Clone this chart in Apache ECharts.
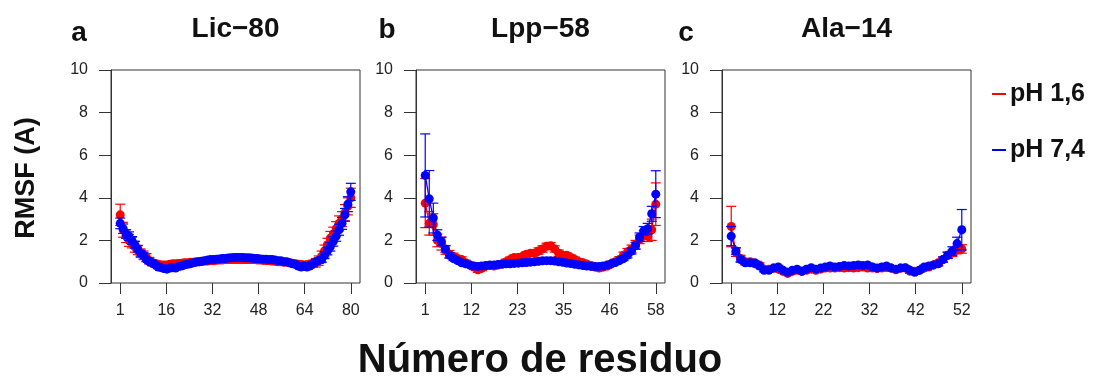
<!DOCTYPE html>
<html><head><meta charset="utf-8">
<script src="https://cdn.jsdelivr.net/npm/echarts@6/dist/echarts.min.js"></script>
<style>html,body{margin:0;padding:0;background:#fff}#c{width:1095px;height:386px}</style>
</head><body><div id="c"></div>
<script>
// ---------- data ----------
const panelLetters = ['a', 'b', 'c'];
const panelTitles = ['Lic−80', 'Lpp−58', 'Ala−14'];
const seriesNames = ['pH 1,6', 'pH 7,4'];
const firstResidue = [1, 1, 3];

const ticksLic = ['1', '16', '32', '48', '64', '80'];
const ticksLpp = ['1', '12', '23', '35', '46', '58'];
const ticksAla = ['3', '12', '22', '32', '42', '52'];

// Lic-80 (residues 1..80)
const licRed = [3.2, 2.5, 2.2, 2.0, 1.9, 1.7, 1.55, 1.4, 1.3, 1.2,
  1.05, 0.95, 0.9, 0.88, 0.85, 0.85, 0.85, 0.88, 0.9, 0.9,
  0.92, 0.93, 0.95, 0.95, 0.97, 0.98, 1.0, 1.0, 1.02, 1.03,
  1.03, 1.05, 1.05, 1.07, 1.08, 1.08, 1.1, 1.1, 1.1, 1.1,
  1.1, 1.1, 1.1, 1.1, 1.1, 1.1, 1.1, 1.08, 1.08, 1.06,
  1.05, 1.05, 1.03, 1.02, 1.0, 1.0, 0.98, 0.97, 0.95, 0.93,
  0.9, 0.88, 0.87, 0.85, 0.86, 0.88, 0.9, 0.95, 1.05, 1.25,
  1.5, 1.8, 2.1, 2.3, 2.55, 2.8, 3.0, 3.3, 3.6, 4.0];
const licRedErr = [0.5, 0.35, 0.3, 0.28, 0.25, 0.25, 0.22, 0.2, 0.2, 0.18,
  0.15, 0.15, 0.14, 0.13, 0.13, 0.12, 0.12, 0.12, 0.12, 0.12,
  0.12, 0.12, 0.12, 0.12, 0.12, 0.12, 0.12, 0.12, 0.12, 0.12,
  0.12, 0.12, 0.12, 0.12, 0.12, 0.12, 0.12, 0.12, 0.12, 0.12,
  0.12, 0.12, 0.12, 0.12, 0.12, 0.12, 0.12, 0.12, 0.12, 0.12,
  0.12, 0.12, 0.12, 0.12, 0.12, 0.12, 0.12, 0.12, 0.12, 0.12,
  0.12, 0.12, 0.13, 0.13, 0.14, 0.15, 0.17, 0.2, 0.22, 0.25,
  0.28, 0.3, 0.32, 0.32, 0.33, 0.35, 0.35, 0.38, 0.4, 0.45];
const licBlue = [2.8, 2.55, 2.3, 2.2, 2.0, 1.8, 1.6, 1.4, 1.3, 1.1,
  1.0, 0.95, 0.85, 0.75, 0.72, 0.68, 0.65, 0.7, 0.72, 0.7,
  0.78, 0.8, 0.85, 0.88, 0.9, 0.95, 0.98, 1.0, 1.02, 1.05,
  1.08, 1.1, 1.1, 1.12, 1.13, 1.15, 1.15, 1.17, 1.18, 1.2,
  1.2, 1.2, 1.2, 1.18, 1.18, 1.17, 1.15, 1.15, 1.13, 1.12,
  1.12, 1.1, 1.1, 1.08, 1.05, 1.05, 1.0, 1.0, 0.95, 0.9,
  0.88, 0.8, 0.75, 0.8, 0.75, 0.8, 0.9, 1.0, 1.05, 1.1,
  1.3, 1.5, 1.7, 1.95, 2.2, 2.5, 2.8, 3.2, 3.7, 4.28];
const licBlueErr = [0.25, 0.22, 0.2, 0.2, 0.18, 0.16, 0.15, 0.14, 0.12, 0.1,
  0.1, 0.09, 0.09, 0.08, 0.08, 0.08, 0.08, 0.08, 0.08, 0.08,
  0.08, 0.08, 0.08, 0.08, 0.08, 0.08, 0.08, 0.08, 0.08, 0.08,
  0.08, 0.08, 0.08, 0.08, 0.08, 0.08, 0.08, 0.08, 0.08, 0.08,
  0.08, 0.08, 0.08, 0.08, 0.08, 0.08, 0.08, 0.08, 0.08, 0.08,
  0.08, 0.08, 0.08, 0.08, 0.08, 0.08, 0.08, 0.08, 0.08, 0.08,
  0.08, 0.08, 0.08, 0.08, 0.08, 0.09, 0.1, 0.1, 0.12, 0.14,
  0.16, 0.18, 0.2, 0.22, 0.24, 0.26, 0.28, 0.3, 0.35, 0.4];

// Lpp-58 (residues 1..58)
const lppRed = [3.75, 2.8, 2.75, 2.0, 1.85, 1.55, 1.35, 1.25, 1.15, 1.1,
  0.95, 0.85, 0.75, 0.62, 0.7, 0.8, 0.82, 0.8, 0.85, 0.9,
  1.0, 1.1, 1.2, 1.2, 1.25, 1.35, 1.4, 1.4, 1.5, 1.6,
  1.72, 1.75, 1.6, 1.4, 1.3, 1.3, 1.2, 1.1, 1.0, 0.95,
  0.88, 0.82, 0.75, 0.7, 0.75, 0.8, 0.9, 1.0, 1.1, 1.3,
  1.45, 1.6, 1.8, 2.05, 2.2, 2.2, 2.5, 3.7];
const lppRedErr = [1.15, 0.55, 0.5, 0.3, 0.3, 0.2, 0.18, 0.15, 0.14, 0.13,
  0.12, 0.12, 0.12, 0.12, 0.12, 0.12, 0.12, 0.12, 0.12, 0.12,
  0.12, 0.12, 0.12, 0.12, 0.12, 0.12, 0.12, 0.12, 0.15, 0.15,
  0.15, 0.15, 0.15, 0.15, 0.12, 0.12, 0.12, 0.12, 0.12, 0.12,
  0.12, 0.12, 0.12, 0.12, 0.12, 0.12, 0.12, 0.12, 0.14, 0.15,
  0.17, 0.18, 0.2, 0.2, 0.25, 0.25, 0.5, 1.0];
const lppBlue = [5.05, 3.95, 3.05, 2.25, 1.95, 1.6, 1.3, 1.15, 1.05, 0.95,
  0.9, 0.85, 0.8, 0.78, 0.8, 0.82, 0.84, 0.85, 0.87, 0.88,
  0.9, 0.9, 0.92, 0.93, 0.95, 0.96, 0.98, 1.0, 1.02, 1.04,
  1.05, 1.05, 1.03, 1.0, 0.97, 0.94, 0.91, 0.88, 0.85, 0.82,
  0.8, 0.78, 0.77, 0.78, 0.8, 0.84, 0.9, 0.96, 1.05, 1.15,
  1.3, 1.5, 1.75, 2.15, 2.45, 2.55, 3.25, 4.17];
const lppBlueErr = [1.95, 1.33, 0.7, 0.25, 0.2, 0.15, 0.12, 0.1, 0.09, 0.08,
  0.08, 0.08, 0.08, 0.08, 0.08, 0.08, 0.08, 0.08, 0.08, 0.08,
  0.08, 0.08, 0.08, 0.08, 0.08, 0.08, 0.08, 0.08, 0.08, 0.08,
  0.08, 0.08, 0.08, 0.08, 0.08, 0.08, 0.08, 0.08, 0.08, 0.08,
  0.08, 0.08, 0.08, 0.08, 0.08, 0.08, 0.08, 0.08, 0.09, 0.1,
  0.12, 0.14, 0.16, 0.2, 0.2, 0.25, 0.35, 1.1];

// Ala-14 (residues 3..52)
const alaRed = [2.65, 1.45, 1.15, 1.0, 1.0, 0.9, 0.85, 0.65, 0.65, 0.7,
  0.65, 0.55, 0.45, 0.55, 0.6, 0.55, 0.6, 0.65, 0.6, 0.65,
  0.7, 0.7, 0.7, 0.72, 0.7, 0.72, 0.7, 0.72, 0.75, 0.7,
  0.7, 0.68, 0.7, 0.72, 0.7, 0.62, 0.7, 0.7, 0.55, 0.55,
  0.6, 0.7, 0.75, 0.85, 0.95, 1.1, 1.3, 1.4, 1.55, 1.6];
const alaRedErr = [0.95, 0.2, 0.15, 0.12, 0.1, 0.1, 0.1, 0.1, 0.1, 0.1,
  0.1, 0.1, 0.1, 0.1, 0.1, 0.1, 0.1, 0.1, 0.1, 0.1,
  0.1, 0.1, 0.1, 0.1, 0.1, 0.1, 0.1, 0.1, 0.1, 0.1,
  0.1, 0.1, 0.1, 0.1, 0.1, 0.1, 0.1, 0.1, 0.1, 0.1,
  0.1, 0.1, 0.1, 0.1, 0.1, 0.12, 0.14, 0.15, 0.18, 0.2];
const alaBlue = [2.2, 1.5, 1.1, 0.95, 0.95, 0.95, 0.8, 0.6, 0.6, 0.7,
  0.75, 0.6, 0.5, 0.6, 0.65, 0.55, 0.65, 0.72, 0.65, 0.7,
  0.75, 0.8, 0.75, 0.78, 0.82, 0.8, 0.82, 0.85, 0.82, 0.85,
  0.75, 0.7, 0.75, 0.8, 0.7, 0.65, 0.7, 0.72, 0.6, 0.5,
  0.6, 0.75, 0.8, 0.85, 0.9, 1.1, 1.3, 1.5, 1.85, 2.5];
const alaBlueErr = [0.45, 0.15, 0.12, 0.1, 0.08, 0.08, 0.08, 0.08, 0.08, 0.08,
  0.08, 0.08, 0.08, 0.08, 0.08, 0.08, 0.08, 0.08, 0.08, 0.08,
  0.08, 0.08, 0.08, 0.08, 0.08, 0.08, 0.08, 0.08, 0.08, 0.08,
  0.08, 0.08, 0.08, 0.08, 0.08, 0.08, 0.08, 0.08, 0.08, 0.08,
  0.08, 0.08, 0.08, 0.08, 0.1, 0.12, 0.15, 0.2, 0.3, 0.95];

// ---------- chart ----------
const RED = '#ff0000', BLUE = '#0000ff';
const FONT = 'Liberation Sans, Arial, sans-serif';
const panels = [
  {red: licRed, redErr: licRedErr, blue: licBlue, blueErr: licBlueErr, ticks: ticksLic},
  {red: lppRed, redErr: lppRedErr, blue: lppBlue, blueErr: lppBlueErr, ticks: ticksLpp},
  {red: alaRed, redErr: alaRedErr, blue: alaBlue, blueErr: alaBlueErr, ticks: ticksAla}
];
const gridLeft = [111, 416, 722];
const gridW = 249, gridTop = 70, gridH = 213;

const grids = [], xAxes = [], yAxes = [], series = [], graphics = [];

function errRender(color) {
  return function (params, api) {
    const x = api.value(0), y = api.value(1), e = api.value(2);
    const top = api.coord([x, y + e]);
    const bot = api.coord([x, y - e]);
    const hw = 5;
    const st = {stroke: color, lineWidth: 1.2};
    return {type: 'group', children: [
      {type: 'line', shape: {x1: top[0], y1: top[1], x2: bot[0], y2: bot[1]}, style: st},
      {type: 'line', shape: {x1: top[0] - hw, y1: top[1], x2: top[0] + hw, y2: top[1]}, style: st},
      {type: 'line', shape: {x1: bot[0] - hw, y1: bot[1], x2: bot[0] + hw, y2: bot[1]}, style: st}
    ]};
  };
}

panels.forEach((p, i) => {
  const first = firstResidue[i];
  const last = first + p.red.length - 1;
  const span = last - first;
  const tickPos = p.ticks.map((_, k) => first + k * span / (p.ticks.length - 1));
  grids.push({left: gridLeft[i], top: gridTop, width: gridW, height: gridH,
    show: true, borderColor: '#333', borderWidth: 1, backgroundColor: 'transparent'});
  xAxes.push({type: 'value', gridIndex: i, min: first - 0.04 * span, max: last + 0.04 * span,
    axisLine: {show: false, onZero: false}, splitLine: {show: false},
    axisTick: {show: true, customValues: tickPos, length: 11, lineStyle: {color: '#333'}},
    axisLabel: {customValues: tickPos, margin: 20, fontSize: 16, color: '#222', fontFamily: FONT,
      formatter: v => {
        let best = 0;
        tickPos.forEach((t, k) => { if (Math.abs(t - v) < Math.abs(tickPos[best] - v)) best = k; });
        return p.ticks[best];
      }}
  });
  yAxes.push({type: 'value', gridIndex: i, min: 0, max: 10, interval: 2,
    axisLine: {show: true, onZero: false, lineStyle: {color: '#333'}}, splitLine: {show: false},
    axisTick: {show: true, length: 12, lineStyle: {color: '#333'}},
    axisLabel: {margin: 23, fontSize: 16, color: '#222', fontFamily: FONT}
  });
  const mk = (vals) => vals.map((v, k) => [first + k, v]);
  const mkErr = (vals, errs) => vals.map((v, k) => [first + k, v, errs[k]]);
  series.push({type: 'custom', name: 'errRed' + i, xAxisIndex: i, yAxisIndex: i,
    renderItem: errRender(RED), data: mkErr(p.red, p.redErr), z: 2, silent: true});
  series.push({type: 'line', name: seriesNames[0], xAxisIndex: i, yAxisIndex: i, data: mk(p.red),
    symbol: 'circle', symbolSize: 9, showSymbol: true, color: RED,
    lineStyle: {width: 1.3, color: RED}, itemStyle: {color: RED}, z: 3, animation: false});
  series.push({type: 'custom', name: 'errBlue' + i, xAxisIndex: i, yAxisIndex: i,
    renderItem: errRender(BLUE), data: mkErr(p.blue, p.blueErr), z: 4, silent: true});
  series.push({type: 'line', name: seriesNames[1], xAxisIndex: i, yAxisIndex: i, data: mk(p.blue),
    symbol: 'circle', symbolSize: 9, showSymbol: true, color: BLUE,
    lineStyle: {width: 1.3, color: BLUE}, itemStyle: {color: BLUE}, z: 5, animation: false});

  const cx = gridLeft[i] + gridW / 2;
  graphics.push({type: 'text', x: cx, y: 29, style: {text: panelTitles[i], font: 'bold 28px ' + FONT,
    fill: '#111', textAlign: 'center', textVerticalAlign: 'middle'}});
  graphics.push({type: 'text', x: [79, 387, 686][i], y: [33, 30, 33][i], style: {text: panelLetters[i],
    font: 'bold 28px ' + FONT, fill: '#111', textAlign: 'center', textVerticalAlign: 'middle'}});
});

graphics.push({type: 'text', x: 27, y: 178, rotation: Math.PI / 2,
  style: {text: 'RMSF (A)', font: 'bold 27px ' + FONT, fill: '#111', textAlign: 'center', textVerticalAlign: 'middle'}});
graphics.push({type: 'text', x: 540, y: 361,
  style: {text: 'Número de residuo', font: 'bold 40px ' + FONT, fill: '#111', textAlign: 'center', textVerticalAlign: 'middle'}});

const chart = echarts.init(document.getElementById('c'), null, {renderer: 'canvas'});
chart.setOption({
  animation: false,
  backgroundColor: '#fff',
  grid: grids, xAxis: xAxes, yAxis: yAxes, series: series,
  legend: {data: seriesNames, orient: 'vertical', left: 987, top: 75, itemGap: 28,
    icon: 'rect', itemWidth: 14, itemHeight: 2,
    textStyle: {fontSize: 25, fontWeight: 'bold', color: '#111', fontFamily: FONT, lineHeight: 28, padding: [0, 0, 0, -1]}},
  graphic: graphics
});
</script>
</body></html>
